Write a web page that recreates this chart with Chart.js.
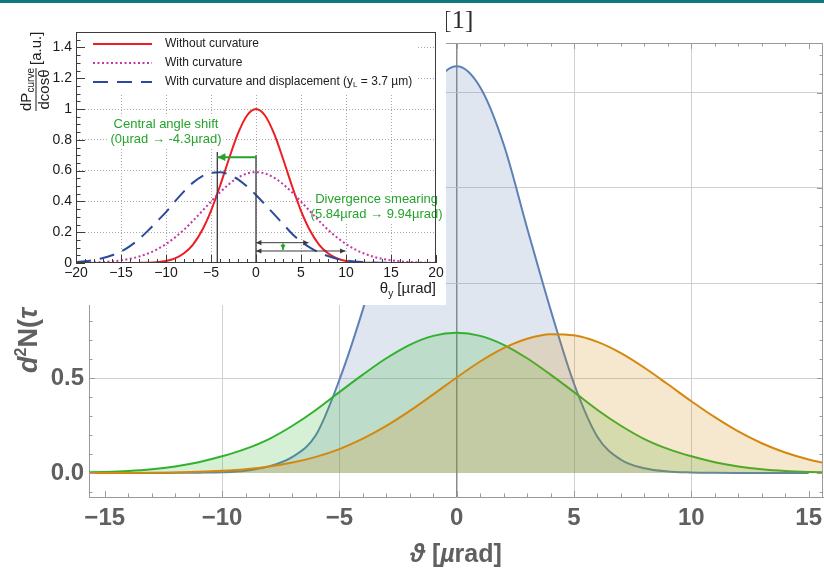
<!DOCTYPE html>
<html lang="en">
<head>
<meta charset="utf-8">
<title>Angular distribution with inset</title>
<script src="https://cdn.jsdelivr.net/npm/chart.js@4.4.1/dist/chart.umd.min.js"></script>
<style>
    html, body { margin: 0; padding: 0; background: #ffffff; }
    body { position: relative; width: 824px; height: 570px; overflow: hidden; }
    #mainChart { position: absolute; left: 0; top: 0; }
    .top-bar { position: absolute; left: 0; top: 0; width: 824px; height: 3px; background: #0e7a7c; }
    .ref { position: absolute; left: 443px; top: 7px; font: 26px/26px "Liberation Serif", "DejaVu Serif", serif; color: #2b2b2b; }
    .inset { position: absolute; left: 0; top: 4px; width: 446px; height: 301px; background: #ffffff; }
    .inset canvas { display: block; }
</style>
</head>
<body>
<canvas id="mainChart" width="824" height="570"></canvas>
<div class="top-bar"></div>
<div class="ref">[1]</div>
<div class="inset"><canvas id="insetChart" width="446" height="301"></canvas></div>
<script>
// Datos del gráfico principal (ϑ en µrad)
const thetaMain = [-16, -15, -14, -13, -12, -11, -10, -9, -8, -7, -6, -5, -4, -3, -2, -1, 0,
    1, 2, 3, 4, 5, 6, 7, 8, 9, 10, 11, 12, 13, 14, 15, 16];
const blueMain = [null, 0, 0, 0, 0.001, 0.002, 0.004, 0.012, 0.035, 0.085, 0.2, 0.49, 0.86, 1.29, 1.73, 2.03, 2.14,
    2.03, 1.73, 1.29, 0.86, 0.47, 0.19, 0.07, 0.025, 0.008, 0.003, 0.001, 0, 0, 0, 0, null];
const greenMain = [0.003, 0.006, 0.011, 0.02, 0.035, 0.057, 0.088, 0.127, 0.179, 0.249, 0.332, 0.426, 0.518, 0.604, 0.675, 0.722, 0.738,
    0.722, 0.675, 0.604, 0.518, 0.426, 0.332, 0.249, 0.179, 0.127, 0.088, 0.057, 0.035, 0.02, 0.011, 0.006, 0.003];
const orangeMain = [0.0002, 0.0004, 0.0008, 0.0017, 0.0033, 0.0063, 0.0115, 0.02, 0.034, 0.055, 0.085, 0.126, 0.181, 0.248, 0.327, 0.414, 0.503,
    0.587, 0.657, 0.707, 0.731, 0.725, 0.69, 0.631, 0.554, 0.467, 0.378, 0.294, 0.219, 0.157, 0.108, 0.071, 0.045];
const mainXTicks = [-15, -10, -5, 0, 5, 10, 15];
const mainYTicks = [0, 0.5, 1, 1.5, 2];

// Datos del recuadro (θy en µrad)
const thetaInset = [-20, -19, -18, -17, -16, -15, -14, -13, -12, -11, -10, -9, -8, -7, -6, -5, -4, -3, -2, -1, 0,
    1, 2, 3, 4, 5, 6, 7, 8, 9, 10, 11, 12, 13, 14, 15, 16, 17, 18, 19, 20];
const redInset = [0, 0, 0, 0, 0, 0, 0, 0.0007, 0.002, 0.0053, 0.013, 0.03, 0.063, 0.12, 0.211, 0.339, 0.5, 0.677, 0.841, 0.958, 1,
    0.958, 0.841, 0.677, 0.5, 0.339, 0.211, 0.12, 0.063, 0.03, 0.013, 0.0053, 0.002, 0.0007, 0, 0, 0, 0, 0, 0, 0];
const magentaInset = [0.0011, 0.0021, 0.0037, 0.0064, 0.0107, 0.0174, 0.0273, 0.0417, 0.0618, 0.0885, 0.123, 0.166, 0.216, 0.274, 0.336, 0.399, 0.459, 0.512, 0.554, 0.581, 0.59,
    0.581, 0.554, 0.512, 0.459, 0.399, 0.336, 0.274, 0.216, 0.166, 0.123, 0.0885, 0.0618, 0.0417, 0.0273, 0.0174, 0.0107, 0.0064, 0.0037, 0.0021, 0.0011];
const blueInset = [0.007, 0.012, 0.02, 0.032, 0.05, 0.075, 0.11, 0.155, 0.21, 0.27, 0.33, 0.4, 0.465, 0.522, 0.563, 0.585, 0.589, 0.574, 0.543, 0.497, 0.442,
    0.38, 0.317, 0.254, 0.19, 0.14, 0.1, 0.068, 0.045, 0.028, 0.017, 0.01, 0.006, 0.003, 0.002, 0.001, 0, 0, 0, 0, 0];
const insetXTicks = [-20, -15, -10, -5, 0, 5, 10, 15, 20];
const insetYTicks = [0, 0.2, 0.4, 0.6, 0.8, 1, 1.2, 1.4];

// Valores de las anotaciones del recuadro
const shiftFrom = 0, shiftTo = -4.3;
const divergenceBefore = 5.84, divergenceAfter = 9.94;

const SANS = '"Liberation Sans", Arial, Helvetica, sans-serif';
const GRAY = '#606060';
const CLEAR = 'rgba(0,0,0,0)';

function toPoints(xs, ys) {
    return xs.map((x, i) => ({ x: x, y: ys[i] }));
}

function stepTicks(from, to, count) {
    const out = [];
    for (let i = from; i <= to; i++) out.push(i / count);
    return out;
}

function minus(v) {
    return String(v).replace('-', '\u2212');
}

// sin márgenes extra por las etiquetas de los extremos
function noEdgePadding(s) {
    s.paddingLeft = 0;
    s.paddingRight = 0;
    s.paddingTop = 0;
    s.paddingBottom = 0;
}

// dibuja una serie de trozos de texto con distinta fuente
function drawRuns(ctx, runs, x, y, align) {
    let total = 0;
    runs.forEach(r => { ctx.font = r.font; r.w = ctx.measureText(r.text).width; total += r.w; });
    let cx = align === 'center' ? x - total / 2 : (align === 'right' ? x - total : x);
    runs.forEach(r => {
        ctx.font = r.font;
        ctx.fillText(r.text, cx, y + (r.dy || 0));
        cx += r.w;
    });
}

function drawArrow(ctx, x1, y1, x2, y2, size, both) {
    ctx.beginPath();
    ctx.moveTo(x1, y1);
    ctx.lineTo(x2, y2);
    ctx.stroke();
    const heads = both ? [[x2, y2, x1, y1], [x1, y1, x2, y2]] : [[x2, y2, x1, y1]];
    heads.forEach(([hx, hy, fx, fy]) => {
        const ang = Math.atan2(hy - fy, hx - fx);
        ctx.beginPath();
        ctx.moveTo(hx, hy);
        ctx.lineTo(hx - size * Math.cos(ang - 0.45), hy - size * Math.sin(ang - 0.45));
        ctx.lineTo(hx - size * Math.cos(ang + 0.45), hy - size * Math.sin(ang + 0.45));
        ctx.closePath();
        ctx.fill();
    });
}

// Marco, marcas interiores y títulos del gráfico principal
const mainFrame = {
    id: 'mainFrame',
    afterDraw(chart) {
        const { ctx, chartArea: a, scales: { x, y } } = chart;
        ctx.save();
        ctx.strokeStyle = '#9a9a9a';
        ctx.lineWidth = 1;
        ctx.beginPath();
        ctx.moveTo(a.left, a.top + 0.5); ctx.lineTo(a.right, a.top + 0.5);
        ctx.moveTo(a.right - 0.5, a.top); ctx.lineTo(a.right - 0.5, a.bottom);
        x.ticks.forEach(t => {
            const px = Math.round(x.getPixelForValue(t.value)) + 0.5;
            const len = t.value % 5 === 0 ? 6 : 3.5;
            ctx.moveTo(px, a.bottom); ctx.lineTo(px, a.bottom - len);
            ctx.moveTo(px, a.top); ctx.lineTo(px, a.top + len);
        });
        y.ticks.forEach(t => {
            const py = Math.round(y.getPixelForValue(t.value)) + 0.5;
            const major = Math.abs(t.value * 2 - Math.round(t.value * 2)) < 1e-6;
            const len = major ? 6 : 3.5;
            ctx.moveTo(a.left, py); ctx.lineTo(a.left + len, py);
            ctx.moveTo(a.right, py); ctx.lineTo(a.right - len, py);
        });
        ctx.stroke();

        ctx.fillStyle = GRAY;
        ctx.textBaseline = 'alphabetic';
        ctx.textAlign = 'left';
        drawRuns(ctx, [
            { text: '\u03D1', font: 'italic bold 25px ' + SANS },
            { text: ' [', font: 'bold 25px ' + SANS },
            { text: '\u00B5', font: 'italic bold 25px ' + SANS },
            { text: 'rad]', font: 'bold 25px ' + SANS }
        ], (a.left + a.right) / 2, 562, 'center');

        // título del eje y (la parte superior queda tapada por el recuadro)
        ctx.save();
        ctx.translate(37, 373);
        ctx.rotate(-Math.PI / 2);
        drawRuns(ctx, [
            { text: 'd', font: 'italic bold 27px ' + SANS },
            { text: '2', font: 'bold 16px ' + SANS, dy: -11 },
            { text: 'N(', font: 'bold 27px ' + SANS },
            { text: '\u03C4', font: 'italic bold 27px ' + SANS }
        ], 0, 0, 'left');
        ctx.restore();
        ctx.restore();
    }
};

new Chart(document.getElementById('mainChart'), {
    type: 'line',
    data: {
        datasets: [
            { data: toPoints(thetaMain, blueMain), borderColor: '#5e81b5', backgroundColor: 'rgba(94,129,181,0.2)', fill: 'origin', order: 3 },
            { data: toPoints(thetaMain, greenMain), borderColor: '#30b22c', backgroundColor: 'rgba(48,178,44,0.2)', fill: 'origin', order: 2 },
            { data: toPoints(thetaMain, orangeMain), borderColor: '#d4880e', backgroundColor: 'rgba(212,136,14,0.2)', fill: 'origin', order: 1 }
        ]
    },
    options: {
        responsive: false,
        animation: false,
        events: [],
        layout: { padding: { top: 43, right: 1, left: 0, bottom: 0 } },
        elements: {
            point: { radius: 0 },
            line: { borderWidth: 2, cubicInterpolationMode: 'monotone' }
        },
        plugins: { legend: { display: false }, tooltip: { enabled: false } },
        scales: {
            x: {
                type: 'linear',
                min: -15.67,
                max: 15.61,
                afterBuildTicks: s => { s.ticks = stepTicks(-15, 15, 1).map(v => ({ value: v })); },
                afterFit: s => { s.height = 73; noEdgePadding(s); },
                grid: {
                    drawTicks: false,
                    color: c => c.tick.value === 0 ? '#8c8c8c' : ([-10, -5, 5, 10].includes(c.tick.value) ? '#d0d0d0' : CLEAR),
                    lineWidth: c => c.tick.value === 0 ? 1.5 : 1
                },
                border: { display: true, color: '#9a9a9a' },
                ticks: {
                    autoSkip: false,
                    maxRotation: 0,
                    padding: 7,
                    color: GRAY,
                    font: { family: SANS, size: 24, weight: 'bold' },
                    callback: v => mainXTicks.includes(v) ? minus(v) : ''
                }
            },
            y: {
                min: -0.126,
                max: 2.263,
                afterBuildTicks: s => { s.ticks = stepTicks(-1, 22, 10).map(v => ({ value: v })); },
                afterFit: s => { s.width = 89; noEdgePadding(s); },
                grid: {
                    drawTicks: false,
                    color: c => (mainYTicks.includes(c.tick.value) && c.tick.value !== 0) ? '#d0d0d0' : CLEAR
                },
                border: { display: true, color: '#9a9a9a' },
                ticks: {
                    autoSkip: false,
                    padding: 5,
                    color: GRAY,
                    font: { family: SANS, size: 24, weight: 'bold' },
                    callback: v => mainYTicks.includes(v) ? v.toFixed(1) : ''
                }
            }
        }
    },
    plugins: [mainFrame]
});

// Recuadro: leyenda, anotaciones, marco y títulos
const GREEN = '#25a32c';
const greenLabels = [
    { lines: ['Central angle shift', '(0\u00B5rad \u2192 -4.3\u00B5rad)'], x: -10, y: [0.9, 0.8] },
    { lines: ['Divergence smearing', '(5.84\u00B5rad \u2192 9.94\u00B5rad)'], x: 13.4, y: [0.41, 0.315] }
];
const legendRows = [
    { y: 40, color: '#ee1d23', dash: [], runs: [{ text: 'Without curvature' }] },
    { y: 59, color: '#c436a6', dash: [2, 2.5], runs: [{ text: 'With curvature' }] },
    { y: 78, color: '#2b4a9f', dash: [15, 9], runs: [{ text: 'With curvature and displacement (y' }, { text: 'L', small: true }, { text: ' = 3.7 \u00B5m)' }] }
];

const insetDecor = {
    id: 'insetDecor',
    beforeDatasetsDraw(chart) {
        const { ctx, chartArea: a, scales: { x, y } } = chart;
        ctx.save();
        ctx.fillStyle = '#ffffff';
        ctx.fillRect(a.left + 1, a.top + 1, 416 - a.left - 1, 89 - a.top - 1);
        ctx.font = '13px ' + SANS;
        greenLabels.forEach(g => {
            g.lines.forEach((line, i) => {
                const w = ctx.measureText(line).width;
                ctx.fillRect(x.getPixelForValue(g.x) - w / 2 - 2, y.getPixelForValue(g.y[i]) - 8, w + 4, 16);
            });
        });
        ctx.restore();
    },
    afterDatasetsDraw(chart) {
        const { ctx, chartArea: a, scales: { x, y } } = chart;
        ctx.save();

        // líneas verticales y flechas
        ctx.strokeStyle = '#3a3a3a';
        ctx.fillStyle = '#3a3a3a';
        ctx.lineWidth = 1.3;
        ctx.beginPath();
        ctx.moveTo(x.getPixelForValue(shiftTo), y.getPixelForValue(0));
        ctx.lineTo(x.getPixelForValue(shiftTo), y.getPixelForValue(0.72));
        ctx.moveTo(x.getPixelForValue(shiftFrom), y.getPixelForValue(0));
        ctx.lineTo(x.getPixelForValue(shiftFrom), y.getPixelForValue(0.7));
        ctx.stroke();
        ctx.lineWidth = 1;
        drawArrow(ctx, x.getPixelForValue(shiftFrom), y.getPixelForValue(0.132), x.getPixelForValue(divergenceBefore), y.getPixelForValue(0.132), 6, true);
        drawArrow(ctx, x.getPixelForValue(shiftFrom), y.getPixelForValue(0.078), x.getPixelForValue(divergenceAfter), y.getPixelForValue(0.078), 6, true);

        ctx.strokeStyle = GREEN;
        ctx.fillStyle = GREEN;
        ctx.lineWidth = 2;
        drawArrow(ctx, x.getPixelForValue(shiftFrom), y.getPixelForValue(0.687), x.getPixelForValue(shiftTo), y.getPixelForValue(0.687), 9, false);
        ctx.lineWidth = 1.5;
        drawArrow(ctx, x.getPixelForValue(3), y.getPixelForValue(0.128), x.getPixelForValue(3), y.getPixelForValue(0.084), 6, false);

        // textos verdes
        ctx.font = '13px ' + SANS;
        ctx.textAlign = 'center';
        ctx.textBaseline = 'middle';
        greenLabels.forEach(g => {
            g.lines.forEach((line, i) => ctx.fillText(line, x.getPixelForValue(g.x), y.getPixelForValue(g.y[i])));
        });

        // leyenda
        ctx.textAlign = 'left';
        legendRows.forEach(row => {
            ctx.strokeStyle = row.color;
            ctx.lineWidth = 2;
            ctx.setLineDash(row.dash);
            ctx.beginPath();
            ctx.moveTo(93, row.y);
            ctx.lineTo(152, row.y);
            ctx.stroke();
            ctx.setLineDash([]);
            ctx.fillStyle = '#202020';
            drawRuns(ctx, row.runs.map(r => ({
                text: r.text,
                font: (r.small ? '8px ' : '12px ') + SANS,
                dy: r.small ? 3 : 0
            })), 165, row.y, 'left');
        });

        // marco y marcas
        ctx.strokeStyle = '#3c3c3c';
        ctx.lineWidth = 1;
        ctx.strokeRect(a.left + 0.5, a.top + 0.5, a.right - a.left - 1, a.bottom - a.top - 1);
        ctx.beginPath();
        x.ticks.forEach(t => {
            const px = Math.round(x.getPixelForValue(t.value)) + 0.5;
            const len = t.value % 5 === 0 ? 8 : 4;
            ctx.moveTo(px, a.bottom); ctx.lineTo(px, a.bottom - len);
        });
        y.ticks.forEach(t => {
            const py = Math.round(y.getPixelForValue(t.value)) + 0.5;
            const major = Math.abs(t.value * 5 - Math.round(t.value * 5)) < 1e-6;
            const len = major ? 9 : 4.5;
            ctx.moveTo(a.left, py); ctx.lineTo(a.left + len, py);
        });
        ctx.stroke();

        // títulos de ejes
        ctx.fillStyle = '#202020';
        ctx.textBaseline = 'alphabetic';
        drawRuns(ctx, [
            { text: '\u03B8', font: '15px ' + SANS },
            { text: 'y', font: '10px ' + SANS, dy: 4 },
            { text: ' [\u00B5rad]', font: '15px ' + SANS }
        ], a.right, 289, 'right');

        const rotated = (text, font, bx, by) => {
            ctx.save();
            ctx.translate(bx, by);
            ctx.rotate(-Math.PI / 2);
            ctx.font = font;
            ctx.fillText(text, 0, 0);
            ctx.restore();
        };
        ctx.textAlign = 'left';
        rotated('dP', '15px ' + SANS, 31, 107);
        rotated('curve', '10px ' + SANS, 34, 88.5);
        rotated('dcos\u03B8', '15px ' + SANS, 48.5, 105.5);
        rotated('[a.u.]', '15px ' + SANS, 41, 61);
        ctx.fillRect(35.5, 64, 1, 43);
        ctx.restore();
    }
};

new Chart(document.getElementById('insetChart'), {
    type: 'line',
    data: {
        datasets: [
            { data: toPoints(thetaInset, redInset), borderColor: '#ee1d23', order: 3 },
            { data: toPoints(thetaInset, magentaInset), borderColor: '#c436a6', borderDash: [2, 2.5], order: 2 },
            { data: toPoints(thetaInset, blueInset), borderColor: '#2b4a9f', borderDash: [15, 9], order: 1 }
        ]
    },
    options: {
        responsive: false,
        animation: false,
        events: [],
        layout: { padding: { top: 28, right: 10, left: 0, bottom: 0 } },
        elements: {
            point: { radius: 0 },
            line: { borderWidth: 2, fill: false, cubicInterpolationMode: 'monotone' }
        },
        plugins: { legend: { display: false }, tooltip: { enabled: false } },
        scales: {
            x: {
                type: 'linear',
                min: -20,
                max: 20,
                afterBuildTicks: s => { s.ticks = stepTicks(-20, 20, 1).map(v => ({ value: v })); },
                afterFit: s => { s.height = 42; noEdgePadding(s); },
                grid: {
                    drawTicks: false,
                    color: c => (insetXTicks.includes(c.tick.value) && Math.abs(c.tick.value) < 20) ? '#a8a8a8' : CLEAR
                },
                border: { display: false, dash: [1, 2] },
                ticks: {
                    autoSkip: false,
                    maxRotation: 0,
                    padding: 2,
                    color: '#1a1a1a',
                    font: { family: SANS, size: 14 },
                    callback: v => insetXTicks.includes(v) ? minus(v) : ''
                }
            },
            y: {
                min: 0,
                max: 1.5,
                afterBuildTicks: s => { s.ticks = stepTicks(0, 30, 20).map(v => ({ value: v })); },
                afterFit: s => { s.width = 76; noEdgePadding(s); },
                grid: {
                    drawTicks: false,
                    color: c => (insetYTicks.includes(c.tick.value) && c.tick.value > 0) ? '#a8a8a8' : CLEAR
                },
                border: { display: false, dash: [1, 2] },
                ticks: {
                    autoSkip: false,
                    padding: 4,
                    color: '#1a1a1a',
                    font: { family: SANS, size: 14 },
                    callback: v => insetYTicks.includes(v) ? String(v) : ''
                }
            }
        }
    },
    plugins: [insetDecor]
});
</script>
</body>
</html>
